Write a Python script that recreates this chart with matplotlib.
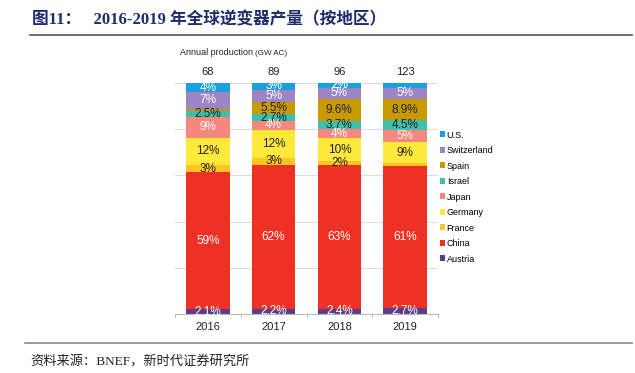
import numpy as np
from matplotlib import pyplot as plt

plt.rcParams['font.family'] = ['Liberation Sans', 'DejaVu Sans']

years = ['2016', '2017', '2018', '2019']
totals = [68, 89, 96, 123]

# share of annual production, %, bottom to top
countries = ['Austria', 'China', 'France', 'Germany', 'Japan',
             'Israel', 'Spain', 'Switzerland', 'U.S.']
austria = [2.1, 2.2, 2.4, 2.7]
china = [59, 62, 63, 61]
france = [3, 3, 2, 1.2]
germany = [12, 12, 10, 9]
japan = [9, 4, 4, 5]
israel = [2.5, 2.7, 3.7, 4.5]
spain = [1.0, 5.5, 9.6, 8.9]
switzerland = [7, 5, 5, 5]
us = [4, 3, 2, 2]

colors = ['#5c3d8c', '#ee3124', '#ffc520', '#ffe93b', '#f5877d',
          '#3fbfaa', '#c99a00', '#9b85c4', '#1aa0de']
text_colors = ['white', 'white', '#222222', '#222222', 'white',
               '#222222', '#222222', 'white', 'white']


def draw_bars(ax):
    data = np.array([austria, china, france, germany, japan,
                     israel, spain, switzerland, us], dtype=float)
    scaled = data / data.sum(axis=0) * 100
    x = np.arange(len(years))
    bottom = np.zeros(len(years))
    for i, name in enumerate(countries):
        ax.bar(x, scaled[i], 0.66, bottom=bottom, color=colors[i], label=name, zorder=2)
        for j in range(len(years)):
            if data[i, j] >= 2 and not (i == 8 and j == 3):
                ax.text(x[j], bottom[j] + scaled[i, j] / 2, f"{data[i, j]:g}%",
                        ha='center', va='center', fontsize=8.5, color=text_colors[i], zorder=3)
        bottom += scaled[i]
    for j in range(len(years)):
        ax.text(x[j], 102.5, str(totals[j]), ha='center', va='bottom', fontsize=8, color='#222222')


fig = plt.figure(figsize=(6.35, 3.73), dpi=100)
ax = fig.add_axes([175 / 635, 1 - 314 / 373, 263 / 635, 231 / 373])
draw_bars(ax)

ax.set_xlim(-0.5, 3.5)
ax.set_ylim(0, 100)
ax.set_yticks([0, 20, 40, 60, 80, 100])
ax.set_yticklabels([])
ax.tick_params(axis='y', length=0)
ax.grid(axis='y', color='#dddddd', linewidth=0.8, zorder=0)
ax.set_xticks(range(len(years)))
ax.set_xticklabels(years, fontsize=8, color='#222222')
ax.set_xticks([-0.5, 0.5, 1.5, 2.5, 3.5], minor=True)
ax.tick_params(axis='x', which='major', length=0, pad=6)
ax.tick_params(axis='x', which='minor', length=3, color='#bbbbbb')
for side in ['top', 'left', 'right']:
    ax.spines[side].set_visible(False)
ax.spines['bottom'].set_color('#bbbbbb')

handles, labels = ax.get_legend_handles_labels()
fig.legend(handles[::-1], labels[::-1], loc='upper left', bbox_to_anchor=(435 / 635, 1 - 126 / 373),
           frameon=False, fontsize=6.5, handlelength=0.6, handleheight=0.6,
           handletextpad=0.2, labelspacing=0.72, borderpad=0)

fig.text(180 / 635, 1 - 55 / 373, 'Annual production', fontsize=6.5, va='baseline', color='#222222')
fig.text(255 / 635, 1 - 55 / 373, '(GW AC)', fontsize=5.8, va='baseline', color='#222222')

fig.text(32 / 635, 1 - 20 / 373, '图11：   2016-2019 年全球逆变器产量（按地区）',
         fontsize=12, fontweight='bold', color='#1f2a6e', va='center',
         family=['Liberation Serif', 'Noto Sans CJK SC'])
fig.add_artist(plt.Line2D([30 / 635, 632 / 635], [1 - 35 / 373] * 2, color='#555555', linewidth=1.2))
fig.add_artist(plt.Line2D([25 / 635, 632 / 635], [1 - 343 / 373] * 2, color='#888888', linewidth=1.2))
fig.text(30 / 635, 1 - 362 / 373, '资料来源：BNEF，新时代证券研究所', fontsize=9.5,
         color='#222222', va='center', family=['Liberation Serif', 'Noto Sans CJK SC'])

fig.savefig('out.png', dpi=100)
